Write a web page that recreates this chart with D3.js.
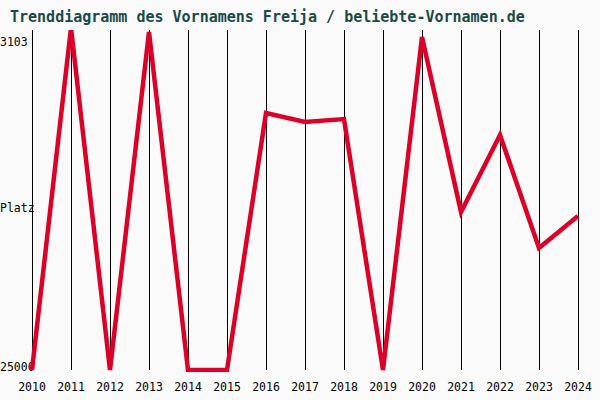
<!DOCTYPE html><html><head><meta charset="utf-8">
<script src="https://cdn.jsdelivr.net/npm/d3@7"></script>
<style>body{margin:0;background:#fafafa}</style></head><body>
<svg id="c" width="600" height="400"></svg>
<script>
const years=[2010,2011,2012,2013,2014,2015,2016,2017,2018,2019,2020,2021,2022,2023,2024];
const ranks=[25000,2300,25000,2570,25000,25000,7950,8540,8350,25000,2900,14520,9410,16900,14780];
const yTicks=[3103,25000];
const svg=d3.select("#c");
svg.append("rect").attr("width",600).attr("height",400).attr("fill","#fafafa");
const x=d3.scaleLinear().domain([2010,2024]).range([32,578]);
const y=d3.scaleLinear().domain([3103,25000]).range([40,370]);
svg.append("text").attr("x",10).attr("y",22).attr("font-family","DejaVu Sans Mono").attr("font-size",15).attr("font-weight","bold").attr("fill","#1a4a48").text("Trenddiagramm des Vornamens Freija / beliebte-Vornamen.de");
svg.append("g").attr("shape-rendering","crispEdges").selectAll("line").data(years).join("line").attr("x1",d=>Math.round(x(d))+0.5).attr("x2",d=>Math.round(x(d))+0.5).attr("y1",30).attr("y2",370).attr("stroke","#000").attr("stroke-width",1);
svg.append("g").selectAll("text").data(years).join("text").attr("x",d=>x(d)).attr("y",391).attr("text-anchor","middle").attr("font-family","DejaVu Sans Mono").attr("font-size",11.5).text(d=>d);
svg.append("g").selectAll("text").data(yTicks).join("text").attr("x",0).attr("y",d=>d===3103?46:371).attr("font-family","DejaVu Sans Mono").attr("font-size",11.5).text(d=>d);
svg.append("text").attr("x",0).attr("y",212).attr("font-family","DejaVu Sans Mono").attr("font-size",11.5).text("Platz");
svg.append("clipPath").attr("id","cp").append("rect").attr("x",0).attr("y",30).attr("width",600).attr("height",342);
svg.append("path").datum(years.map((d,i)=>[d,ranks[i]])).attr("clip-path","url(#cp)").attr("fill","none").attr("stroke","#dc0028").attr("stroke-width",4.5).attr("stroke-linejoin","miter")
.attr("d",d3.line().x(d=>x(d[0])).y(d=>y(d[1])));
</script></body></html>
